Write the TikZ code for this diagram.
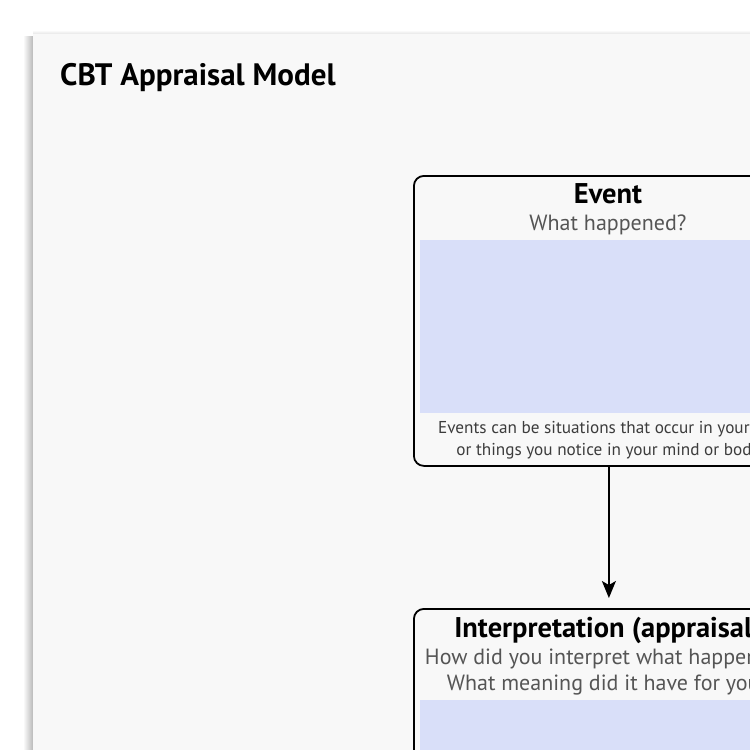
\documentclass[tikz,border=0pt]{standalone}
\usepackage{fontspec}
\setmainfont{PT Sans}
\usetikzlibrary{arrows.meta,positioning}
\definecolor{pagegray}{RGB}{248,248,248}
\definecolor{fillblue}{RGB}{217,223,249}
\definecolor{subgray}{RGB}{85,85,85}
\definecolor{notegray}{RGB}{60,60,60}

\tikzset{
  card/.style={draw=black, line width=1.8pt, rounded corners=10pt, fill=pagegray,
    minimum width=390pt, anchor=north west, inner sep=0pt},
  writebox/.style={fill=fillblue, minimum width=376pt, anchor=north west, inner sep=0pt},
  heading/.style={font=\fontsize{28.5}{32}\selectfont\bfseries, anchor=base, inner sep=0pt},
  prompt/.style={font=\fontsize{22}{25.5}\selectfont, text=subgray, anchor=base, align=center, inner sep=0pt},
  note/.style={font=\fontsize{17.2}{22}\selectfont, text=notegray, anchor=base, align=center, inner sep=0pt}
}

\begin{document}
\begin{tikzpicture}[x=1pt, y=-1pt]
        \useasboundingbox (0,0) rectangle (750,750);
        \clip (0,0) rectangle (750,750);
        \fill[white] (0,0) rectangle (750,750);
        % sheet and its shadow
        \shade[left color=white, right color=gray!55] (23,36) rectangle (33,760);
        \shade[top color=white, bottom color=gray!20] (33,30) rectangle (760,34);
        \fill[pagegray] (33,34) rectangle (760,760);
        \node[anchor=base west, inner sep=0pt, font=\fontsize{31}{36}\selectfont\bfseries] (title) at (60,85) {CBT Appraisal Model};

        % event card
        \node[card, minimum height=290pt] (event) at (413,175) {};
        \node[heading] (eventhead) at (608,203) {Event};
        \node[prompt] (eventprompt) at (608,230) {What happened?};
        \node[writebox, minimum height=173pt] (eventfill) at (420,240) {};
        \node[note] (eventnote) at (608,455) {Events can be situations that occur in your life\\
            or things you notice in your mind or body};

        % interpretation card
        \node[card, minimum height=300pt] (interp) at (413,608) {};
        \node[heading] (interphead) at (608,637) {Interpretation (appraisal)};
        \node[prompt] (interpprompt) at (608,690) {How did you interpret what happened?\\
            What meaning did it have for you?};
        \node[writebox, minimum height=200pt] (interpfill) at (420,700) {};

        \draw[-{Stealth[length=17pt, width=14pt, inset=4pt]}, line width=1.5pt, shorten >=10pt]
            (event.south) -- (interp.north);
    \end{tikzpicture}
\end{document}
